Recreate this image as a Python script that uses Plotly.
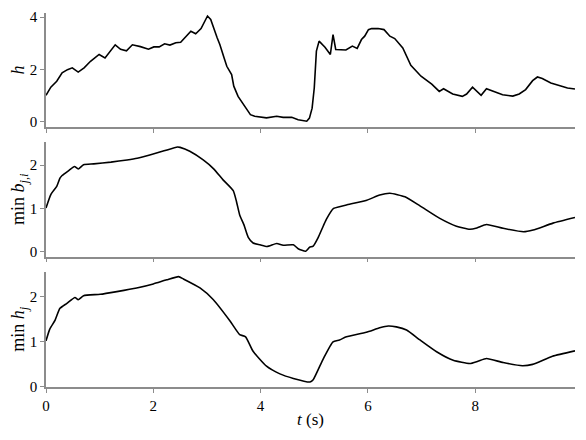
import plotly.graph_objects as go
from plotly.subplots import make_subplots

# h (top panel)
t_h = [0.0, 0.09, 0.2, 0.3, 0.4, 0.49, 0.6, 0.71, 0.83, 0.99, 1.1, 1.19, 1.29, 1.39, 1.5,
       1.61, 1.76, 1.91, 2.01, 2.11, 2.21, 2.31, 2.42, 2.51, 2.6, 2.7, 2.79, 2.89, 3.01,
       3.07, 3.19, 3.24, 3.32, 3.37, 3.46, 3.5, 3.58, 3.68, 3.74, 3.81, 3.89, 3.99, 4.11,
       4.3, 4.42, 4.58, 4.7, 4.86, 4.91, 4.96, 5.0, 5.04, 5.09, 5.2, 5.3, 5.35, 5.4,
       5.59, 5.71, 5.8, 5.88, 5.94, 6.01, 6.07, 6.19, 6.3, 6.41, 6.5, 6.6, 6.65, 6.8,
       6.99, 7.19, 7.33, 7.41, 7.58, 7.76, 7.84, 7.95, 8.11, 8.21, 8.38, 8.51, 8.7,
       8.82, 8.94, 9.07, 9.16, 9.25, 9.41, 9.56, 9.72, 9.86]
h = [1.01, 1.32, 1.55, 1.87, 1.99, 2.06, 1.9, 2.06, 2.31, 2.57, 2.44, 2.66, 2.94, 2.77, 2.71,
     2.94, 2.87, 2.77, 2.86, 2.86, 2.98, 2.93, 3.02, 3.04, 3.23, 3.46, 3.36, 3.56, 4.04,
     3.91, 3.21, 2.95, 2.44, 2.12, 1.8, 1.36, 0.97, 0.65, 0.46, 0.27, 0.21, 0.19, 0.15,
     0.21, 0.17, 0.17, 0.08, 0.02, 0.14, 0.52, 1.29, 2.7, 3.08, 2.85, 2.57, 3.33, 2.76,
     2.74, 2.89, 2.8, 3.14, 3.27, 3.52, 3.56, 3.56, 3.52, 3.27, 3.18, 2.93, 2.82, 2.16,
     1.74, 1.44, 1.16, 1.26, 1.06, 0.97, 1.06, 1.32, 1.01, 1.26, 1.14, 1.03, 0.98,
     1.06, 1.23, 1.57, 1.71, 1.65, 1.48, 1.39, 1.29, 1.25]

# min b_{j,i} (middle panel)
t_b = [0.0, 0.09, 0.2, 0.26, 0.3, 0.43, 0.53, 0.6, 0.7, 0.89, 1.21, 1.51, 1.7, 1.95, 2.2,
       2.45, 2.5, 2.68, 2.93, 3.12, 3.3, 3.49, 3.55, 3.61, 3.69, 3.77, 3.86, 3.99, 4.12,
       4.3, 4.42, 4.61, 4.7, 4.84, 4.91, 4.98, 5.07, 5.17, 5.23, 5.36, 5.47, 5.6, 5.98,
       6.22, 6.41, 6.69, 6.97, 7.34, 7.65, 7.9, 8.03, 8.21, 8.52, 8.9, 9.08, 9.45, 9.86]
b = [1.01, 1.32, 1.51, 1.7, 1.76, 1.88, 1.97, 1.91, 2.01, 2.03, 2.07, 2.12, 2.16, 2.24, 2.33,
     2.42, 2.41, 2.32, 2.12, 1.92, 1.66, 1.41, 1.16, 0.85, 0.62, 0.33, 0.2, 0.16, 0.12,
     0.19, 0.15, 0.16, 0.07, 0.01, 0.1, 0.13, 0.32, 0.6, 0.76, 1.0, 1.04, 1.08, 1.19,
     1.31, 1.35, 1.27, 1.06, 0.77, 0.59, 0.52, 0.55, 0.63, 0.54, 0.46, 0.5, 0.66, 0.79]

# min h_j (bottom panel)
t_hj = [0.0, 0.07, 0.17, 0.26, 0.39, 0.54, 0.6, 0.7, 1.01, 1.32, 1.69, 2.0, 2.25, 2.47,
        2.56, 2.87, 3.12, 3.43, 3.61, 3.72, 3.86, 4.11, 4.36, 4.61, 4.92, 4.98, 5.17,
        5.35, 5.47, 5.6, 5.97, 6.22, 6.38, 6.53, 6.72, 6.97, 7.28, 7.59, 7.9, 8.05,
        8.21, 8.52, 8.88, 9.07, 9.44, 9.86]
hj = [1.02, 1.28, 1.48, 1.74, 1.85, 1.98, 1.93, 2.02, 2.05, 2.11, 2.19, 2.28, 2.37, 2.44,
      2.39, 2.19, 1.93, 1.46, 1.16, 1.11, 0.79, 0.46, 0.29, 0.19, 0.11, 0.16, 0.63,
      1.0, 1.04, 1.11, 1.21, 1.31, 1.35, 1.33, 1.26, 1.04, 0.78, 0.59, 0.52, 0.57,
      0.63, 0.54, 0.47, 0.5, 0.68, 0.8]

font = dict(family="'Liberation Serif', 'DejaVu Serif', serif", size=15, color="black")
spine = "#8c8c8c"

fig = make_subplots(rows=3, cols=1, shared_xaxes=True)
series = [(t_h, h, "linear"), (t_b, b, "spline"), (t_hj, hj, "spline")]
for row, (x, y, shape) in enumerate(series, start=1):
    line = dict(color="black", width=1.6, shape=shape)
    if shape == "spline":
        line["smoothing"] = 0.5
    fig.add_trace(go.Scatter(x=x, y=y, mode="lines", line=line,
                             showlegend=False), row=row, col=1)

domains = [[0.694, 0.997], [0.3475, 0.654], [0.0, 0.3075]]
yranges = [[-0.19, 4.15], [-0.115, 2.54], [0.0, 2.55]]
ytitles = ["<i>h</i>",
           "min <i>b</i><sub><i>j,i</i></sub>",
           "min <i>h</i><sub><i>j</i></sub>"]
yticks = [[0, 2, 4], [0, 1, 2], [0, 1, 2]]

for i in range(3):
    fig.update_yaxes(domain=domains[i], range=yranges[i], title_text=ytitles[i],
                     tickvals=yticks[i], row=i + 1, col=1)
    fig.update_xaxes(range=[0, 9.86], tickvals=[0, 2, 4, 6, 8],
                     showticklabels=(i == 2), row=i + 1, col=1)

fig.update_xaxes(showline=True, linecolor=spine, linewidth=1.5, ticks="outside",
                 ticklen=4, tickcolor=spine, showgrid=False, zeroline=False)
fig.update_yaxes(showline=True, linecolor=spine, linewidth=1.5, ticks="outside",
                 ticklen=4, tickcolor=spine, showgrid=False, zeroline=False,
                 automargin=False, title_standoff=3, title_font_size=18)
fig.update_xaxes(title_text="<i>t</i> (s)", title_standoff=0, automargin=False,
                 title_font_size=17, row=3, col=1)

# page body adds an 8px offset, so the figure is shrunk to fit the window
fig.update_layout(width=578, height=432, font=font,
                  margin=dict(l=38, r=11, t=4, b=53),
                  plot_bgcolor="white", paper_bgcolor="white")

fig.write_html("out.html")
